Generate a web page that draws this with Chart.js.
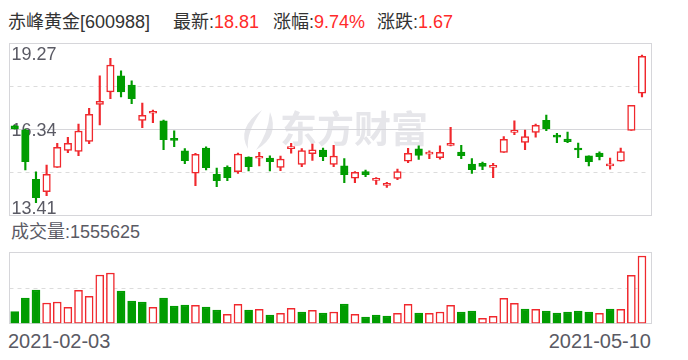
<!DOCTYPE html>
<html>
<head>
<meta charset="utf-8">
<script src="https://cdn.jsdelivr.net/npm/chart.js@4.4.0/dist/chart.umd.min.js"></script>
<style>
  body { margin: 0; width: 688px; height: 360px; background: #fff; position: relative; overflow: hidden;
         font-family: "Liberation Sans", "Noto Sans CJK SC", sans-serif; }
  .t { position: absolute; font-size: 18px; line-height: 22px; color: #333; white-space: nowrap; }
  .g { color: #5a5a64; }
  .r { color: #ff2a2a; }
  canvas { position: absolute; left: 0; }
</style>
</head>
<body>
<div class="t" style="left:8px;top:11px">赤峰黄金[600988]</div>
<div class="t" style="left:173px;top:11px">最新:<span class="r" id="last"></span></div>
<div class="t" style="left:273px;top:11px">涨幅:<span class="r" id="pct"></span></div>
<div class="t" style="left:377px;top:11px">涨跌:<span class="r" id="chg"></span></div>
<div class="t g" style="left:11px;top:221px" id="volLabel"></div>
<div class="t g" style="left:8px;top:329px;font-size:20px;line-height:24px" id="d0"></div>
<div class="t g" style="right:37px;top:329px;font-size:20px;line-height:24px" id="d1"></div>

<canvas id="price" width="688" height="186" style="top:36px"></canvas>
<canvas id="vol" width="688" height="82" style="top:246px"></canvas>

<script>
// trading days 2021-02-03 .. 2021-05-10
const dates = [
  "2021-02-03","2021-02-04","2021-02-05","2021-02-08","2021-02-09","2021-02-10",
  "2021-02-18","2021-02-19","2021-02-22","2021-02-23","2021-02-24","2021-02-25","2021-02-26",
  "2021-03-01","2021-03-02","2021-03-03","2021-03-04","2021-03-05","2021-03-08","2021-03-09",
  "2021-03-10","2021-03-11","2021-03-12","2021-03-15","2021-03-16","2021-03-17","2021-03-18",
  "2021-03-19","2021-03-22","2021-03-23","2021-03-24","2021-03-25","2021-03-26","2021-03-29",
  "2021-03-30","2021-03-31","2021-04-01","2021-04-02","2021-04-06","2021-04-07","2021-04-08",
  "2021-04-09","2021-04-12","2021-04-13","2021-04-14","2021-04-15","2021-04-16","2021-04-19",
  "2021-04-20","2021-04-21","2021-04-22","2021-04-23","2021-04-26","2021-04-27","2021-04-28",
  "2021-04-29","2021-04-30","2021-05-06","2021-05-07","2021-05-10"
];

const opens = [
  16.44,16.30,14.62,14.20,15.03,15.61,15.57,15.91,17.17,17.60,18.14,17.83,16.63,16.87,16.61,
  15.95,15.59,14.83,15.69,14.79,15.03,14.88,15.38,15.34,15.35,15.03,15.67,15.13,15.50,15.62,
  15.13,15.08,14.66,14.89,14.59,14.42,14.65,15.24,15.66,15.48,15.36,15.78,15.55,15.14,15.17,
  15.03,15.54,16.22,15.88,16.22,16.63,16.06,15.99,15.62,15.42,15.52,15.08,15.24,16.29,17.55
];
const highs = [
  16.46,16.33,14.88,15.11,15.85,16.05,16.50,17.04,18.14,18.74,18.31,17.97,17.22,16.98,16.64,
  16.27,15.67,15.51,15.73,15.01,15.08,15.52,15.39,15.54,15.42,15.41,15.85,15.67,15.82,15.69,
  15.78,15.33,14.89,14.94,14.68,14.52,14.97,15.68,15.76,15.59,15.76,16.39,15.78,15.33,15.21,
  15.17,16.08,16.61,16.30,16.50,16.81,16.19,16.23,15.86,15.42,15.56,15.35,15.69,17.14,18.85
];
const lows = [
  16.33,14.94,13.83,14.07,15.03,15.53,15.43,15.84,16.47,17.37,17.43,17.20,16.38,16.55,15.63,
  15.73,15.16,14.41,14.94,14.37,14.58,14.82,14.91,15.08,14.91,14.92,15.51,15.05,15.27,15.26,
  15.05,14.51,14.51,14.71,14.45,14.35,14.61,15.19,15.30,15.33,15.31,15.76,15.33,14.82,14.95,
  14.68,15.54,16.14,15.63,16.06,16.28,15.87,15.87,15.36,15.08,15.28,14.97,15.24,16.29,17.43
];
const closes = [
  16.34,15.22,14.00,14.79,15.71,15.85,16.26,16.83,17.28,18.51,17.60,17.37,16.80,16.87,15.97,
  15.95,15.26,15.47,15.02,14.58,14.68,15.48,15.05,15.34,15.22,15.31,15.72,15.60,15.63,15.39,
  15.41,14.78,14.86,14.78,14.63,14.49,14.89,15.51,15.44,15.48,15.54,15.85,15.43,14.95,15.06,
  15.10,15.98,16.22,16.08,16.46,16.35,16.06,15.90,15.62,15.22,15.39,15.14,15.57,17.14,18.81
];
const volumes = [
  270000,585000,770000,469000,492000,370000,763000,624000,1116000,1163000,747000,515000,
  492000,370000,585000,400000,423000,416000,377000,307000,208000,439000,307000,324000,
  192000,231000,347000,261000,300000,238000,261000,446000,208000,146000,192000,169000,
  231000,439000,238000,231000,261000,416000,261000,284000,116000,162000,578000,462000,
  331000,324000,284000,238000,261000,284000,261000,231000,331000,324000,1110000,1555625
];

const priceTicks = [13.41, 16.34, 19.27];
const priceDashed = [14.875, 17.805];
const volMax = 1655000;

const RED = "#f0282d";
const GREEN = "#009c00";
const BOX_LEFT = 9.5, BOX_RIGHT = 651.5;

// candle colour: body direction, dojis follow previous close
function candleUp(i) {
  if (closes[i] !== opens[i]) return closes[i] > opens[i];
  return i > 0 ? closes[i] >= closes[i - 1] : true;
}
function volUp(i) {
  return i > 0 ? closes[i] >= closes[i - 1] : closes[i] >= opens[i];
}

// header texts
const n = closes.length;
const chg = closes[n - 1] - closes[n - 2];
document.getElementById("last").textContent = closes[n - 1].toFixed(2);
document.getElementById("chg").textContent = chg.toFixed(2);
document.getElementById("pct").textContent = (chg / closes[n - 2] * 100).toFixed(2) + "%";
document.getElementById("volLabel").textContent = "成交量:" + volumes[n - 1];
document.getElementById("d0").textContent = dates[0];
document.getElementById("d1").textContent = dates[n - 1];

function hline(ctx, x0, x1, y) {
  ctx.beginPath();
  ctx.moveTo(x0, y);
  ctx.lineTo(x1, y);
  ctx.stroke();
}

// frame, grid, watermark and price labels
const priceFrame = {
  id: "priceFrame",
  beforeDatasetsDraw(chart) {
    const { ctx, chartArea: a, scales: { y } } = chart;
    const top = Math.round(a.top) + 0.5, bottom = Math.round(a.bottom) + 0.5;
    ctx.save();

    // watermark
    ctx.fillStyle = "#e6e6ea";
    ctx.font = 'bold 37px "Noto Sans CJK SC"';
    ctx.textBaseline = "middle";
    ctx.fillText("东方财富", 280, 93);
    ctx.beginPath();
    ctx.moveTo(262, 74);
    ctx.quadraticCurveTo(236, 92, 248, 113);
    ctx.quadraticCurveTo(246, 96, 262, 74);
    ctx.fill();
    ctx.beginPath();
    ctx.moveTo(270, 76);
    ctx.quadraticCurveTo(280, 100, 256, 114);
    ctx.quadraticCurveTo(268, 98, 270, 76);
    ctx.fill();

    ctx.strokeStyle = "#dcdcdc";
    ctx.lineWidth = 1;
    ctx.setLineDash([4, 4]);
    priceDashed.forEach(v => hline(ctx, BOX_LEFT, BOX_RIGHT - 3, Math.round(y.getPixelForValue(v)) + 0.5));
    ctx.setLineDash([]);
    ctx.strokeStyle = "#d6d6da";
    hline(ctx, BOX_LEFT, BOX_RIGHT, Math.round(y.getPixelForValue(priceTicks[1])) + 0.5);
    ctx.strokeRect(BOX_LEFT, top, BOX_RIGHT - BOX_LEFT, bottom - top);

    ctx.fillStyle = "#5a5a64";
    ctx.font = '18px "Liberation Sans"';
    ctx.textBaseline = "alphabetic";
    ctx.fillText(priceTicks[2].toFixed(2), 11.5, a.top + 16.8);
    ctx.fillText(priceTicks[1].toFixed(2), 11.5, y.getPixelForValue(priceTicks[1]) + 7.5);
    ctx.fillText(priceTicks[0].toFixed(2), 11.5, a.bottom - 1);
    ctx.restore();
  }
};

const volFrame = {
  id: "volFrame",
  beforeDatasetsDraw(chart) {
    const { ctx, chartArea: a, scales: { y } } = chart;
    const top = Math.round(a.top) + 0.5, bottom = Math.round(a.bottom) + 0.5;
    ctx.save();
    ctx.strokeStyle = "#dcdcdc";
    ctx.lineWidth = 1;
    ctx.setLineDash([4, 4]);
    hline(ctx, BOX_LEFT, BOX_RIGHT - 3, Math.round(y.getPixelForValue(volMax / 2)) + 0.5);
    ctx.setLineDash([]);
    ctx.strokeStyle = "#d6d6da";
    ctx.strokeRect(BOX_LEFT, top, BOX_RIGHT - BOX_LEFT, bottom - top);
    ctx.restore();
  }
};

const baseOpts = {
  responsive: false,
  devicePixelRatio: 1,
  animation: false,
  events: [],
  plugins: { legend: { display: false }, tooltip: { enabled: false } }
};

const candleCol = dates.map((_, i) => candleUp(i) ? RED : GREEN);

new Chart(document.getElementById("price"), {
  type: "bar",
  data: {
    labels: dates,
    datasets: [
      {
        label: "body",
        data: dates.map((_, i) => [Math.min(opens[i], closes[i]), Math.max(opens[i], closes[i])]),
        backgroundColor: dates.map((_, i) => candleUp(i) ? "#ffffff" : GREEN),
        borderColor: candleCol,
        borderWidth: 1.5,
        borderSkipped: false,
        barThickness: 7.5,
        minBarLength: 2,
        grouped: false
      },
      {
        label: "wick",
        data: dates.map((_, i) => [lows[i], highs[i]]),
        backgroundColor: candleCol,
        borderWidth: 0,
        barThickness: 1.5,
        grouped: false
      }
    ]
  },
  options: {
    ...baseOpts,
    layout: { padding: { left: 9.4, right: 40.7, top: 6.7, bottom: 7 } },
    scales: {
      x: { type: "category", display: false, offset: true },
      y: { display: false, min: priceTicks[0], max: priceTicks[2] }
    }
  },
  plugins: [priceFrame]
});

new Chart(document.getElementById("vol"), {
  type: "bar",
  data: {
    labels: dates,
    datasets: [{
      label: "成交量",
      data: volumes,
      backgroundColor: dates.map((_, i) => volUp(i) ? "#ffffff" : GREEN),
      borderColor: dates.map((_, i) => volUp(i) ? RED : GREEN),
      borderWidth: 1.5,
      borderSkipped: false,
      barThickness: 8
    }]
  },
  options: {
    ...baseOpts,
    layout: { padding: { left: 9.4, right: 40.7, top: 5.7, bottom: 4.7 } },
    scales: {
      x: { type: "category", display: false, offset: true },
      y: { display: false, min: 0, max: volMax }
    }
  },
  plugins: [volFrame]
});
</script>
</body>
</html>
